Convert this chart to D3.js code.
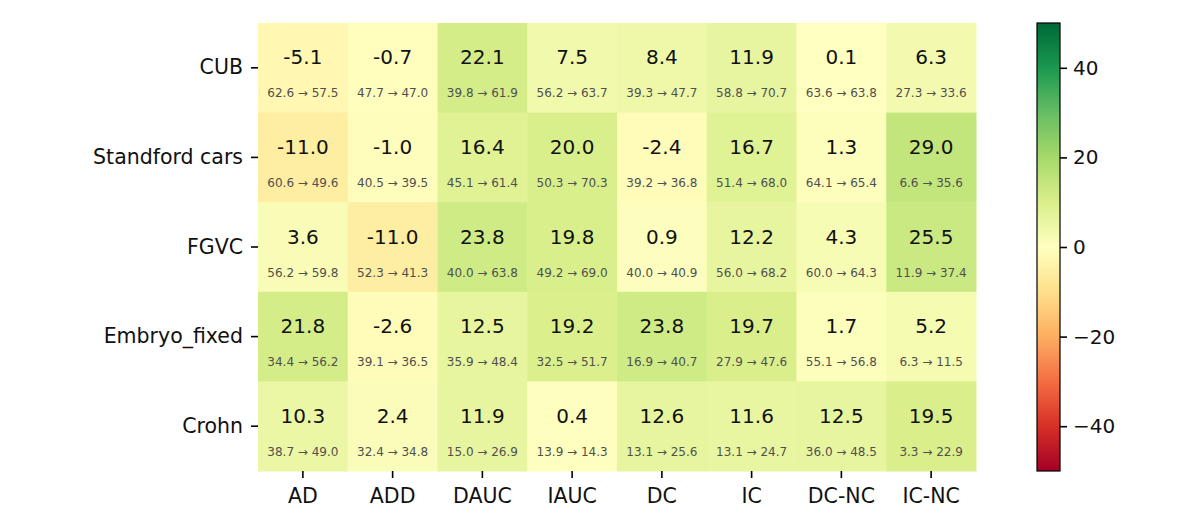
<!DOCTYPE html>
<html>
<head>
<meta charset="utf-8">
<script src="https://cdn.jsdelivr.net/npm/d3@7"></script>
<style>
  html, body { margin: 0; padding: 0; background: #fff; }
  svg { display: block; }
  text { font-family: "DejaVu Sans", sans-serif; }
</style>
</head>
<body>
<script>
const datasets = ["CUB", "Standford cars", "FGVC", "Embryo_fixed", "Crohn"];
const metrics = ["AD", "ADD", "DAUC", "IAUC", "DC", "IC", "DC-NC", "IC-NC"];

const deltaValues = [
  [-5.1, -0.7, 22.1, 7.5, 8.4, 11.9, 0.1, 6.3],
  [-11.0, -1.0, 16.4, 20.0, -2.4, 16.7, 1.3, 29.0],
  [3.6, -11.0, 23.8, 19.8, 0.9, 12.2, 4.3, 25.5],
  [21.8, -2.6, 12.5, 19.2, 23.8, 19.7, 1.7, 5.2],
  [10.3, 2.4, 11.9, 0.4, 12.6, 11.6, 12.5, 19.5]
];
const beforeValues = [
  [62.6, 47.7, 39.8, 56.2, 39.3, 58.8, 63.6, 27.3],
  [60.6, 40.5, 45.1, 50.3, 39.2, 51.4, 64.1, 6.6],
  [56.2, 52.3, 40.0, 49.2, 40.0, 56.0, 60.0, 11.9],
  [34.4, 39.1, 35.9, 32.5, 16.9, 27.9, 55.1, 6.3],
  [38.7, 32.4, 15.0, 13.9, 13.1, 13.1, 36.0, 3.3]
];
const afterValues = [
  [57.5, 47.0, 61.9, 63.7, 47.7, 70.7, 63.8, 33.6],
  [49.6, 39.5, 61.4, 70.3, 36.8, 68.0, 65.4, 35.6],
  [59.8, 41.3, 63.8, 69.0, 40.9, 68.2, 64.3, 37.4],
  [56.2, 36.5, 48.4, 51.7, 40.7, 47.6, 56.8, 11.5],
  [49.0, 34.8, 26.9, 14.3, 25.6, 24.7, 48.5, 22.9]
];
const colorbarTicks = [-40, -20, 0, 20, 40];
const colorbarDomain = [-50, 50];
const cellColorDomain = [-100, 100];

// matplotlib RdYlGn stops (linear segments)
const rdylgn = ["#a50026","#d73027","#f46d43","#fdae61","#fee08b","#ffffbf",
                "#d9ef8b","#a6d96a","#66bd63","#1a9850","#006837"];

(function () {
const W = 1196, H = 531;
const svg = d3.select("body").append("svg").attr("width", W).attr("height", H);

const pLeft = 258, pRight = 976, pTop = 23, pBottom = 471;

const x = d3.scaleBand().domain(metrics).range([pLeft, pRight]).padding(0);
const y = d3.scaleBand().domain(datasets).range([pTop, pBottom]).padding(0);

function makeColor(dom) {
  return d3.scaleLinear()
    .domain(d3.range(11).map(i => dom[0] + i * (dom[1] - dom[0]) / 10))
    .range(rdylgn)
    .interpolate(d3.interpolateRgb)
    .clamp(true);
}
const cellColor = makeColor(cellColorDomain);
const barColor = makeColor(colorbarDomain);

const cells = [];
datasets.forEach((ds, i) => metrics.forEach((m, j) => {
  cells.push({ ds, m, d: deltaValues[i][j], b: beforeValues[i][j], a: afterValues[i][j] });
}));

const g = svg.append("g");
g.selectAll("rect.cell").data(cells).enter().append("rect")
  .attr("class", "cell")
  .attr("x", d => x(d.m))
  .attr("y", d => y(d.ds))
  .attr("width", x.bandwidth() + 0.5)
  .attr("height", y.bandwidth() + 0.5)
  .attr("fill", d => cellColor(d.d));

g.selectAll("text.val").data(cells).enter().append("text")
  .attr("class", "val")
  .attr("x", d => x(d.m) + x.bandwidth() / 2)
  .attr("y", d => y(d.ds) + y.bandwidth() * 0.385)
  .attr("text-anchor", "middle")
  .attr("dominant-baseline", "central")
  .attr("font-size", 20)
  .attr("fill", "#111")
  .text(d => d.d.toFixed(1));

g.selectAll("text.sub").data(cells).enter().append("text")
  .attr("class", "sub")
  .attr("x", d => x(d.m) + x.bandwidth() / 2)
  .attr("y", d => y(d.ds) + y.bandwidth() * 0.785)
  .attr("text-anchor", "middle")
  .attr("dominant-baseline", "central")
  .attr("font-size", 12)
  .attr("fill", "#505050")
  .text(d => d.b.toFixed(1) + " \u2192 " + d.a.toFixed(1));

// Axes
const xAxis = d3.axisBottom(x).tickSize(7).tickPadding(10);
const gx = svg.append("g").attr("transform", `translate(0,${pBottom})`).call(xAxis);
gx.select(".domain").remove();
gx.selectAll(".tick line").attr("stroke", "#000").attr("stroke-width", 1.6);
gx.selectAll(".tick text").attr("font-size", 20.5).attr("fill", "#111")
  .attr("font-family", "DejaVu Sans, sans-serif");

const yAxis = d3.axisLeft(y).tickSize(7).tickPadding(8);
const gy = svg.append("g").attr("transform", `translate(${pLeft},0)`).call(yAxis);
gy.select(".domain").remove();
gy.selectAll(".tick line").attr("stroke", "#000").attr("stroke-width", 1.6);
gy.selectAll(".tick text").attr("font-size", 20.5).attr("fill", "#111")
  .attr("font-family", "DejaVu Sans, sans-serif");

// Colorbar
const cbLeft = 1037, cbWidth = 23;
const cbScale = d3.scaleLinear().domain(colorbarDomain).range([pBottom, pTop]);
const defs = svg.append("defs");
const grad = defs.append("linearGradient").attr("id", "cbgrad")
  .attr("x1", 0).attr("y1", 1).attr("x2", 0).attr("y2", 0);
d3.range(0, 101).forEach(k => {
  const v = colorbarDomain[0] + k / 100 * (colorbarDomain[1] - colorbarDomain[0]);
  grad.append("stop").attr("offset", k + "%").attr("stop-color", barColor(v));
});
svg.append("rect")
  .attr("x", cbLeft).attr("y", pTop)
  .attr("width", cbWidth).attr("height", pBottom - pTop)
  .attr("fill", "url(#cbgrad)")
  .attr("stroke", "#000").attr("stroke-width", 1.2);

const cbAxis = d3.axisRight(cbScale).tickValues(colorbarTicks).tickSize(7).tickPadding(6)
  .tickFormat(d => d < 0 ? "\u2212" + Math.abs(d) : String(d));
const gcb = svg.append("g").attr("transform", `translate(${cbLeft + cbWidth},0)`).call(cbAxis);
gcb.select(".domain").remove();
gcb.selectAll(".tick line").attr("stroke", "#000").attr("stroke-width", 1.6);
gcb.selectAll(".tick text").attr("font-size", 20).attr("fill", "#111")
  .attr("font-family", "DejaVu Sans, sans-serif");
})();
</script>
</body>
</html>
